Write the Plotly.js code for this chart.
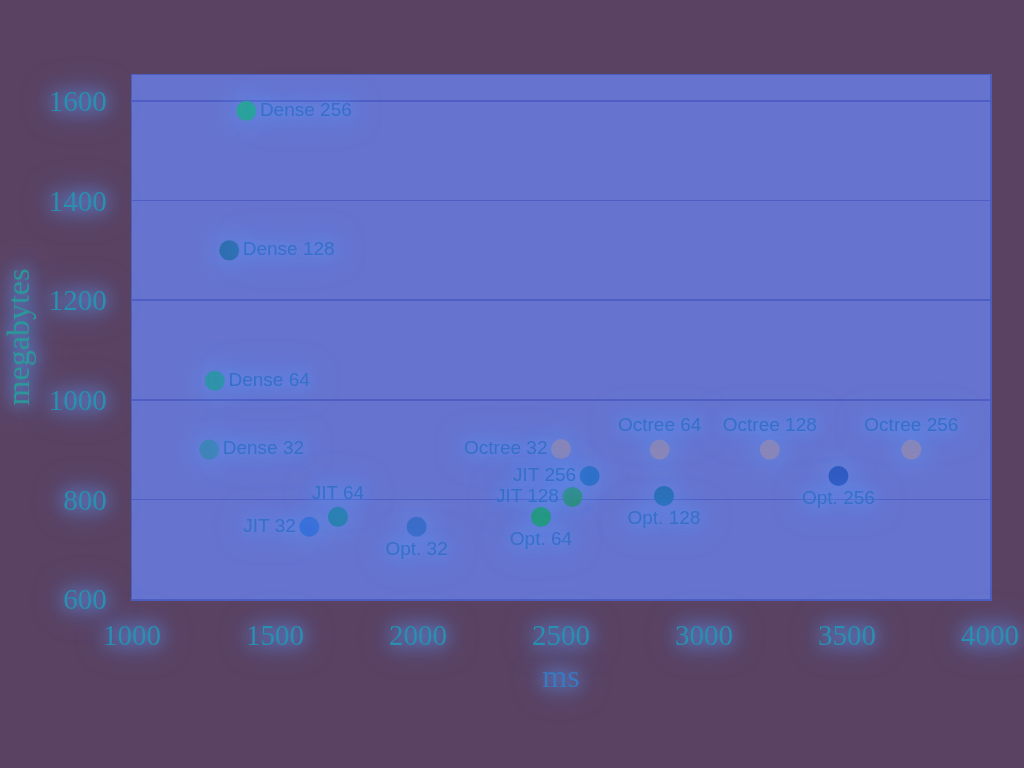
<!DOCTYPE html>
<html>
<head>
<meta charset="utf-8">
<script src="https://cdn.plot.ly/plotly-3.0.1.min.js"></script>
<style>
html,body{margin:0;padding:0;background:#5a4262;}
#chart{width:1024px;height:768px;}
#chart text{filter:drop-shadow(0 0 8px rgba(90,160,255,0.95)) drop-shadow(0 0 14px rgba(80,140,255,0.7));}
#chart .scatterlayer path.point{filter:drop-shadow(0 0 14px rgba(90,160,255,0.95));}
</style>
</head>
<body>
<div id="chart"></div>
<script>
var labels = ["Dense 32","Dense 64","Dense 128","Dense 256",
              "JIT 32","JIT 64","JIT 128","JIT 256",
              "Opt. 32","Opt. 64","Opt. 128","Opt. 256",
              "Octree 32","Octree 64","Octree 128","Octree 256"];
var timeMs = [1270,1290,1340,1400,
              1620,1720,2540,2600,
              1995,2430,2860,3470,
              2500,2845,3230,3725];
var memMB  = [900,1038,1300,1580,
              745,765,805,847,
              745,765,807,847,
              901,900,900,900];
var labelPos = ["middle right","middle right","middle right","middle right",
                "middle left","top center","middle left","middle left",
                "bottom center","bottom center","bottom center","bottom center",
                "middle left","top center","top center","top center"];
var markerColors = ["#3f84b8","#2f93a8","#2f6fb0","#2aa29a",
                    "#3a6fd8","#2a80b0","#2f8f80","#2f70c8",
                    "#3a6cc8","#229a78","#2a70b8","#2f5ac0",
                    "#8a86b8","#8a86b8","#8a86b8","#8a86b8"];

var trace = {
  type:"scatter", mode:"markers+text",
  x: timeMs, y: memMB, text: labels, textposition: labelPos,
  marker:{size:20, color: markerColors, line:{width:0}},
  textfont:{family:"Liberation Sans, Arial, sans-serif", size:19, color:"#3670c8"},
  cliponaxis:false, hoverinfo:"none"
};

var layout = {
  width:1024, height:768,
  paper_bgcolor:"#5a4262",
  plot_bgcolor:"#6674cf",
  margin:{l:132, r:34, t:75, b:169},
  showlegend:false,
  xaxis:{
    range:[1000,4000], tickvals:[1000,1500,2000,2500,3000,3500,4000],
    showgrid:false, zeroline:false,
    showline:true, mirror:true, linecolor:"#4c5ec0", linewidth:1.5,
    ticks:"", ticklabelstandoff:10,
    tickfont:{family:"Liberation Serif, Times New Roman, serif", size:29, color:"#2a8fb0"},
    title:{text:"ms", standoff:14, font:{family:"Liberation Serif, Times New Roman, serif", size:32, color:"#3a78c0"}}
  },
  yaxis:{
    range:[600,1652], tickvals:[600,800,1000,1200,1400,1600],
    showgrid:true, gridcolor:"#4e5ec4", gridwidth:1.5, zeroline:false,
    showline:true, mirror:true, linecolor:"#4c5ec0", linewidth:1.5,
    ticks:"", ticklabelstandoff:18,
    tickfont:{family:"Liberation Serif, Times New Roman, serif", size:29, color:"#2a8fb0"},
    title:{text:"megabytes", standoff:14, font:{family:"Liberation Serif, Times New Roman, serif", size:32, color:"#2a9a9a"}}
  }
};

Plotly.newPlot("chart",[trace],layout,{displayModeBar:false,staticPlot:true});
</script>
</body>
</html>
